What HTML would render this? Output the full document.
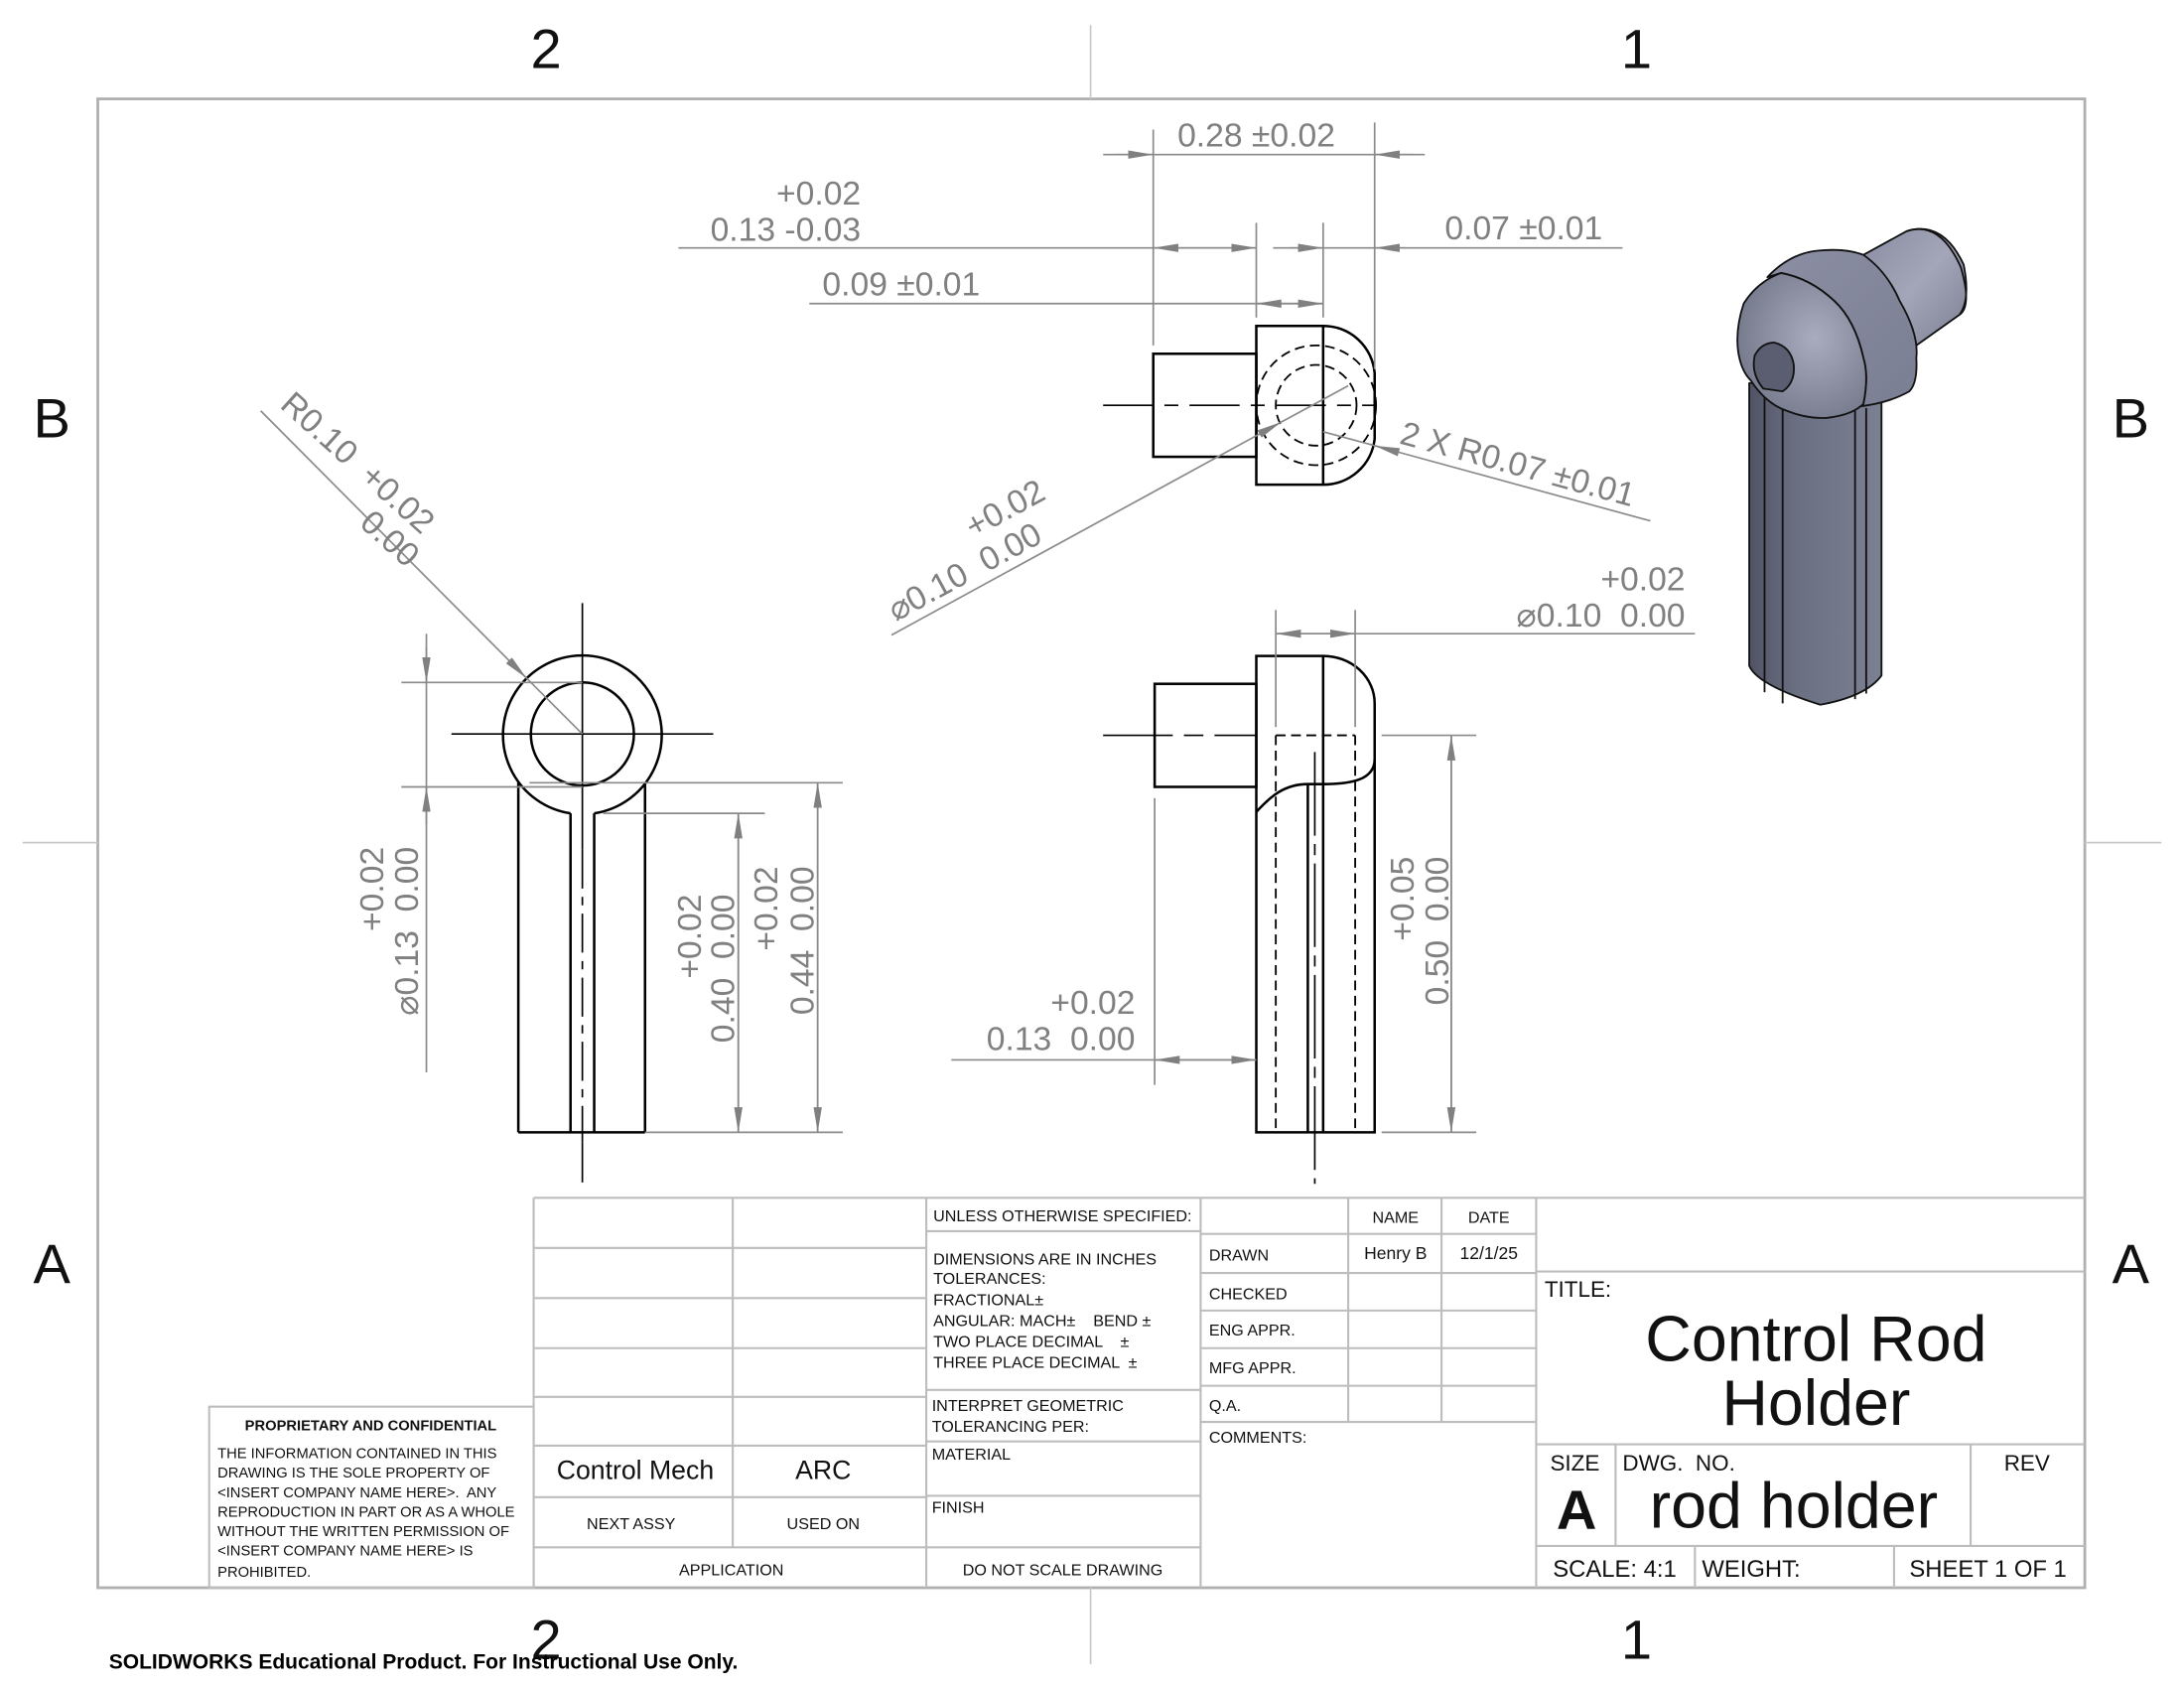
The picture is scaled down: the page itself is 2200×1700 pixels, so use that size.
<!DOCTYPE html>
<html><head><meta charset="utf-8"><style>
html,body{margin:0;padding:0;background:#fff}
svg{display:block}
text{font-family:"Liberation Sans",sans-serif;white-space:pre}
.d{fill:#808080;font-size:24px}
.g{stroke:#8a8a8a;stroke-width:1.2;fill:none}
.k{stroke:#000;stroke-width:1.8;fill:none}
.h{stroke:#000;stroke-width:1.3;fill:none;stroke-dasharray:7 4}
.c{stroke:#000;stroke-width:1.2;fill:none}
.t{stroke:#bdbdbd;stroke-width:1.5;fill:none}
.s{font-size:11.5px;fill:#111}
</style></head><body>
<svg width="2200" height="1700" viewBox="0 0 1568 1212" xmlns="http://www.w3.org/2000/svg">
<defs>
<marker id="a" viewBox="0 0 18 6" refX="18" refY="3" markerWidth="18" markerHeight="6" orient="auto" markerUnits="userSpaceOnUse"><path d="M0,0L18,3L0,6z" fill="#808080"/></marker>
<linearGradient id="bg" x1="0" x2="1" y1="0" y2="0"><stop offset="0" stop-color="#4f5364"/><stop offset="0.35" stop-color="#6b6f82"/><stop offset="1" stop-color="#7c8093"/></linearGradient>
<radialGradient id="hg" cx="0.6" cy="0.45" r="0.7"><stop offset="0" stop-color="#a9acbe"/><stop offset="1" stop-color="#6f7386"/></radialGradient>
<linearGradient id="cg" x1="0" x2="1" y1="0" y2="1"><stop offset="0" stop-color="#8a8da2"/><stop offset="0.5" stop-color="#a3a6b8"/><stop offset="1" stop-color="#7c8093"/></linearGradient>
<linearGradient id="kg" x1="0" x2="1" y1="0" y2="1"><stop offset="0" stop-color="#8c8fa4"/><stop offset="1" stop-color="#7a7e92"/></linearGradient>
</defs>
<rect width="1568" height="1212" fill="#fff"/>
<rect x="70" y="71" width="1427" height="1069" fill="none" stroke="#b0b0b0" stroke-width="2"/>
<g stroke="#c8c8c8" stroke-width="1.2">
<line x1="783" y1="18" x2="783" y2="71"/><line x1="783" y1="1140" x2="783" y2="1195"/>
<line x1="16" y1="605" x2="70" y2="605"/><line x1="1497" y1="605" x2="1552" y2="605"/>
</g>
<g font-size="40" fill="#111" text-anchor="middle">
<text x="392" y="49">2</text><text x="1175" y="49">1</text>
<text x="392" y="1191">2</text><text x="1175" y="1191">1</text>
<text x="37" y="314">B</text><text x="1530" y="314">B</text>
<text x="37" y="921">A</text><text x="1530" y="921">A</text>
</g>
<text x="78" y="1198" font-size="15" font-weight="bold" fill="#000">SOLIDWORKS Educational Product. For Instructional Use Only.</text>

<!-- TOP VIEW -->
<rect x="828" y="254" width="74" height="74" class="k"/>
<path d="M902,234 L950,234 A37,37 0 0 1 987,268 L987,315 A37,37 0 0 1 950,348 L902,348 Z" class="k"/>
<line x1="950" y1="234" x2="950" y2="348" class="k"/>
<circle cx="945" cy="291" r="43" class="h"/>
<circle cx="945" cy="291" r="29" class="h"/>
<line x1="792" y1="291" x2="987" y2="291" class="c" stroke-dasharray="36 8 10 8"/>
<g class="g">
<line x1="828" y1="93" x2="828" y2="248"/><line x1="987" y1="88" x2="987" y2="265"/>
<line x1="902" y1="160" x2="902" y2="228"/><line x1="950" y1="160" x2="950" y2="228"/>
<line x1="792" y1="111" x2="1023" y2="111"/>
<line x1="487" y1="178" x2="902" y2="178"/><line x1="914" y1="178" x2="1165" y2="178"/>
<line x1="581" y1="218" x2="950" y2="218"/>
</g>
<g class="g" marker-end="url(#a)">
<line x1="800" y1="111" x2="828" y2="111"/><line x1="1015" y1="111" x2="987" y2="111"/>
<line x1="865" y1="178" x2="828" y2="178"/><line x1="865" y1="178" x2="902" y2="178"/>
<line x1="925" y1="178" x2="950" y2="178"/><line x1="1010" y1="178" x2="987" y2="178"/>
<line x1="926" y1="218" x2="902" y2="218"/><line x1="926" y1="218" x2="950" y2="218"/>
</g>
<text x="902" y="105" class="d" text-anchor="middle">0.28 ±0.02</text>
<text x="1094" y="172" class="d" text-anchor="middle">0.07 ±0.01</text>
<text x="647" y="212" class="d" text-anchor="middle">0.09 ±0.01</text>
<text x="618" y="147" class="d" text-anchor="end">+0.02</text>
<text x="618" y="173" class="d" text-anchor="end">0.13 -0.03</text>
<line x1="640" y1="456" x2="920" y2="303" class="g" marker-end="url(#a)"/>
<line x1="920" y1="303" x2="968" y2="277" class="g"/>
<g transform="translate(645,450) rotate(-28.5)">
<text x="0" y="-4" class="d">⌀0.10  0.00</text>
<text x="138" y="-30" class="d" text-anchor="end">+0.02</text>
</g>
<line x1="1185" y1="374" x2="987" y2="320" class="g" marker-end="url(#a)"/>
<line x1="987" y1="320" x2="950" y2="310" class="g"/>
<g transform="translate(1003,322) rotate(15.3)">
<text x="0" y="-4" class="d">2 X R0.07 ±0.01</text>
</g>

<!-- LEFT VIEW -->
<path d="M426.5,584 A57,57 0 1 0 409.5,584" class="k"/>
<line x1="372" y1="562" x2="372" y2="813" class="k"/>
<line x1="463" y1="562" x2="463" y2="813" class="k"/>
<line x1="409.5" y1="584" x2="409.5" y2="813" class="k"/>
<line x1="426.5" y1="584" x2="426.5" y2="813" class="k"/>
<line x1="372" y1="813" x2="463" y2="813" class="k"/>
<circle cx="418" cy="527" r="37" class="k"/>
<line x1="324" y1="527" x2="512" y2="527" class="c"/>
<line x1="418" y1="433" x2="418" y2="610" class="c"/>
<line x1="418" y1="610" x2="418" y2="820" class="c" stroke-dasharray="28 6 6 6"/>
<line x1="418" y1="820" x2="418" y2="849" class="c"/>
<g class="g">
<line x1="288" y1="490" x2="418" y2="490"/><line x1="288" y1="565" x2="418" y2="565"/>
<line x1="306" y1="455" x2="306" y2="770"/>
<line x1="433" y1="584" x2="549" y2="584"/><line x1="380" y1="562" x2="605" y2="562"/>
<line x1="463" y1="813" x2="605" y2="813"/>
<line x1="530" y1="584" x2="530" y2="813"/><line x1="587" y1="562" x2="587" y2="813"/>
</g>
<g class="g" marker-end="url(#a)">
<line x1="306" y1="465" x2="306" y2="490"/><line x1="306" y1="592" x2="306" y2="565"/>
<line x1="530" y1="700" x2="530" y2="584"/><line x1="530" y1="700" x2="530" y2="813"/>
<line x1="587" y1="690" x2="587" y2="562"/><line x1="587" y1="690" x2="587" y2="813"/>
</g>
<g transform="translate(275,608) rotate(-90)"><text x="0" y="0" class="d" text-anchor="end">+0.02</text></g>
<g transform="translate(300,608) rotate(-90)"><text x="0" y="0" class="d" text-anchor="end">⌀0.13  0.00</text></g>
<g transform="translate(503,642) rotate(-90)"><text x="0" y="0" class="d" text-anchor="end">+0.02</text></g>
<g transform="translate(527,642) rotate(-90)"><text x="0" y="0" class="d" text-anchor="end">0.40  0.00</text></g>
<g transform="translate(558,622) rotate(-90)"><text x="0" y="0" class="d" text-anchor="end">+0.02</text></g>
<g transform="translate(584,622) rotate(-90)"><text x="0" y="0" class="d" text-anchor="end">0.44  0.00</text></g>
<line x1="187" y1="295" x2="378" y2="487" class="g" marker-end="url(#a)"/>
<line x1="378" y1="487" x2="418" y2="527" class="g"/>
<g transform="translate(200,292) rotate(42)">
<text x="0" y="0" class="d">R0.10  +0.02</text>
<text x="146" y="25" class="d" text-anchor="end">0.00</text>
</g>

<!-- SIDE VIEW -->
<rect x="829" y="491" width="73" height="74" class="k"/>
<path d="M902,813 L902,471 L950,471 A37,34 0 0 1 987,505 L987,813 Z" class="k"/>
<line x1="950" y1="471" x2="950" y2="813" class="k"/>
<line x1="939" y1="563" x2="939" y2="813" class="k"/>
<path d="M902,583 C912,572 922,563 939,563 L950,563 C970,563 987,560 987,545" class="k"/>
<line x1="916" y1="528" x2="916" y2="813" class="h"/>
<line x1="973" y1="528" x2="973" y2="813" class="h"/>
<line x1="916" y1="528" x2="973" y2="528" class="h"/>
<line x1="792" y1="528" x2="902" y2="528" class="c" stroke-dasharray="50 8 14 8"/>
<line x1="944" y1="540" x2="944" y2="850" class="c" stroke-dasharray="60 6 8 6"/>
<g class="g">
<line x1="916" y1="438" x2="916" y2="522"/><line x1="973" y1="438" x2="973" y2="522"/>
<line x1="916" y1="455" x2="1217" y2="455"/>
<line x1="992" y1="528" x2="1060" y2="528"/><line x1="992" y1="813" x2="1060" y2="813"/>
<line x1="1042" y1="528" x2="1042" y2="813"/>
<line x1="829" y1="573" x2="829" y2="779"/>
<line x1="683" y1="761" x2="902" y2="761"/>
</g>
<g class="g" marker-end="url(#a)">
<line x1="944" y1="455" x2="916" y2="455"/><line x1="944" y1="455" x2="973" y2="455"/>
<line x1="1042" y1="670" x2="1042" y2="528"/><line x1="1042" y1="670" x2="1042" y2="813"/>
<line x1="865" y1="761" x2="829" y2="761"/><line x1="865" y1="761" x2="902" y2="761"/>
</g>
<text x="1210" y="424" class="d" text-anchor="end">+0.02</text>
<text x="1210" y="450" class="d" text-anchor="end">⌀0.10  0.00</text>
<text x="815" y="728" class="d" text-anchor="end">+0.02</text>
<text x="815" y="754" class="d" text-anchor="end">0.13  0.00</text>
<g transform="translate(1015,615) rotate(-90)"><text x="0" y="0" class="d" text-anchor="end">+0.05</text></g>
<g transform="translate(1040,615) rotate(-90)"><text x="0" y="0" class="d" text-anchor="end">0.50  0.00</text></g>

<!-- ISOMETRIC -->
<g stroke="#111" stroke-width="1.3" stroke-linejoin="round">
<!-- body -->
<path d="M1256,275 L1256,478 Q1262,492 1307,506 Q1340,500 1351,485 L1351,275 Z" fill="url(#bg)"/>
<line x1="1267" y1="276" x2="1267" y2="497"/>
<line x1="1280" y1="285" x2="1280" y2="505"/>
<line x1="1332" y1="295" x2="1332" y2="502"/>
<line x1="1340" y1="293" x2="1340" y2="498"/>
<!-- small cylinder -->
<path d="M1338,183 L1369,166 Q1395,158 1410,190 Q1415,215 1407,226 L1376,248 Z" fill="url(#cg)"/>
<path d="M1369,166 Q1393,158 1408,192 Q1416,220 1407,226" fill="none"/>
<!-- collar -->
<path d="M1269,199 Q1285,182 1305,180 Q1325,178 1338,183 Q1355,195 1364,216 Q1378,240 1376,257 Q1377,275 1371,281 Q1355,290 1333,292 L1338,290 Q1342,270 1338,257 Q1332,230 1317,216 Q1300,200 1279,196 Z" fill="url(#kg)"/>
<!-- head -->
<path d="M1279,196 Q1262,202 1252,218 Q1246,236 1248,252 Q1250,266 1257,273 Q1268,290 1283,295 Q1298,301 1312,300 Q1330,298 1338,290 Q1342,270 1338,257 Q1332,230 1317,216 Q1300,200 1279,196 Z" fill="url(#hg)"/>
<path d="M1266,279 Q1257,268 1260,255 Q1265,246 1274,246 Q1286,249 1288,262 Q1289,275 1280,281 Z" fill="#5a5e70"/>
</g>

<!-- TITLE BLOCK -->
<g class="t">
<line x1="383" y1="860" x2="1497" y2="860"/>
<line x1="383" y1="860" x2="383" y2="1140"/>
<rect x="150" y="1010" width="233" height="130"/>
<line x1="526" y1="860" x2="526" y2="1111"/>
<line x1="665" y1="860" x2="665" y2="1140"/>
<line x1="862" y1="860" x2="862" y2="1140"/>
<line x1="1103" y1="860" x2="1103" y2="1140"/>
<line x1="968" y1="860" x2="968" y2="1021"/>
<line x1="1035" y1="860" x2="1035" y2="1021"/>
<line x1="383" y1="896" x2="665" y2="896"/><line x1="383" y1="932" x2="665" y2="932"/>
<line x1="383" y1="968" x2="665" y2="968"/><line x1="383" y1="1003" x2="665" y2="1003"/>
<line x1="383" y1="1038" x2="665" y2="1038"/><line x1="383" y1="1075" x2="665" y2="1075"/>
<line x1="383" y1="1111" x2="862" y2="1111"/>
<line x1="665" y1="884" x2="862" y2="884"/><line x1="665" y1="998" x2="862" y2="998"/>
<line x1="665" y1="1035" x2="862" y2="1035"/><line x1="665" y1="1074" x2="862" y2="1074"/>
<line x1="862" y1="886" x2="1103" y2="886"/><line x1="862" y1="914" x2="1103" y2="914"/>
<line x1="862" y1="941" x2="1103" y2="941"/><line x1="862" y1="968" x2="1103" y2="968"/>
<line x1="862" y1="995" x2="1103" y2="995"/><line x1="862" y1="1021" x2="1103" y2="1021"/>
<line x1="1103" y1="913" x2="1497" y2="913"/>
<line x1="1103" y1="1037" x2="1497" y2="1037"/>
<line x1="1103" y1="1110" x2="1497" y2="1110"/>
<line x1="1160" y1="1037" x2="1160" y2="1110"/>
<line x1="1415" y1="1037" x2="1415" y2="1110"/>
<line x1="1217" y1="1110" x2="1217" y2="1140"/>
<line x1="1360" y1="1110" x2="1360" y2="1140"/>
</g>
<g class="s">
<text x="266" y="1027" text-anchor="middle" font-weight="bold" font-size="10.5">PROPRIETARY AND CONFIDENTIAL</text>
<text x="156" y="1047" font-size="10.5">THE INFORMATION CONTAINED IN THIS</text>
<text x="156" y="1061" font-size="10.5">DRAWING IS THE SOLE PROPERTY OF</text>
<text x="156" y="1075" font-size="10.5">&lt;INSERT COMPANY NAME HERE&gt;.  ANY</text>
<text x="156" y="1089" font-size="10.5">REPRODUCTION IN PART OR AS A WHOLE</text>
<text x="156" y="1103" font-size="10.5">WITHOUT THE WRITTEN PERMISSION OF</text>
<text x="156" y="1117" font-size="10.5">&lt;INSERT COMPANY NAME HERE&gt; IS</text>
<text x="156" y="1132" font-size="10.5">PROHIBITED.</text>
<text x="456" y="1062" text-anchor="middle" font-size="19">Control Mech</text>
<text x="591" y="1062" text-anchor="middle" font-size="19">ARC</text>
<text x="453" y="1098" text-anchor="middle">NEXT ASSY</text>
<text x="591" y="1098" text-anchor="middle">USED ON</text>
<text x="525" y="1131" text-anchor="middle">APPLICATION</text>
<text x="763" y="1131" text-anchor="middle">DO NOT SCALE DRAWING</text>
<text x="670" y="877">UNLESS OTHERWISE SPECIFIED:</text>
<text x="670" y="908">DIMENSIONS ARE IN INCHES</text>
<text x="670" y="922">TOLERANCES:</text>
<text x="670" y="937">FRACTIONAL±</text>
<text x="670" y="952">ANGULAR: MACH±    BEND ±</text>
<text x="670" y="967">TWO PLACE DECIMAL    ±</text>
<text x="670" y="982">THREE PLACE DECIMAL  ±</text>
<text x="669" y="1013">INTERPRET GEOMETRIC</text>
<text x="669" y="1028">TOLERANCING PER:</text>
<text x="669" y="1048">MATERIAL</text>
<text x="669" y="1086">FINISH</text>
<text x="1002" y="878" text-anchor="middle">NAME</text>
<text x="1069" y="878" text-anchor="middle">DATE</text>
<text x="868" y="905">DRAWN</text>
<text x="1002" y="904" text-anchor="middle" font-size="12.5">Henry B</text>
<text x="1069" y="904" text-anchor="middle" font-size="12.5">12/1/25</text>
<text x="868" y="933">CHECKED</text>
<text x="868" y="959">ENG APPR.</text>
<text x="868" y="986">MFG APPR.</text>
<text x="868" y="1013">Q.A.</text>
<text x="868" y="1036">COMMENTS:</text>
<text x="1109" y="931" font-size="16">TITLE:</text>
<text x="1304" y="977" text-anchor="middle" font-size="46">Control Rod</text>
<text x="1304" y="1023" text-anchor="middle" font-size="46">Holder</text>
<text x="1113" y="1056" font-size="16">SIZE</text>
<text x="1165" y="1056" font-size="16">DWG.  NO.</text>
<text x="1439" y="1056" font-size="16">REV</text>
<text x="1132" y="1098" text-anchor="middle" font-size="40" font-weight="bold">A</text>
<text x="1288" y="1097" text-anchor="middle" font-size="46">rod holder</text>
<text x="1115" y="1132" font-size="17">SCALE: 4:1</text>
<text x="1222" y="1132" font-size="17">WEIGHT:</text>
<text x="1371" y="1132" font-size="17">SHEET 1 OF 1</text>
</g>
</svg>
</body></html>
